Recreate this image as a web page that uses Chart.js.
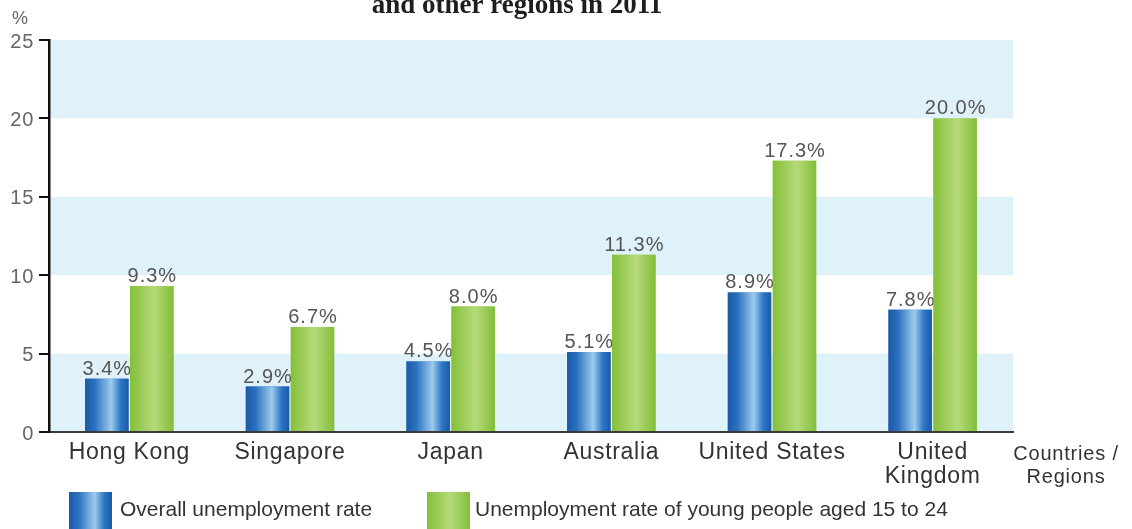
<!DOCTYPE html>
<html>
<head>
<meta charset="utf-8">
<script src="https://cdn.jsdelivr.net/npm/chart.js@4.4.1/dist/chart.umd.min.js"></script>
<style>
  html, body { margin: 0; padding: 0; background: #ffffff; }
  #wrap { width: 1132px; height: 529px; position: relative; overflow: hidden; }
</style>
</head>
<body>
<div id="wrap"><canvas id="c" width="1132" height="529"></canvas></div>
<script>
// ---- data ----
const categories = ['Hong Kong', 'Singapore', 'Japan', 'Australia', 'United States', ['United', 'Kingdom']];
const overallRate = [3.4, 2.9, 4.5, 5.1, 8.9, 7.8];
const youthRate = [9.3, 6.7, 8.0, 11.3, 17.3, 20.0];
const seriesNames = ['Overall unemployment rate', 'Unemployment rate of young people aged 15 to 24'];
const yTickValues = [0, 5, 10, 15, 20, 25];
const titleLine = 'and other regions in 2011';
const yUnit = '%';
const xAxisTitle = ['Countries /', 'Regions'];

// ---- styles ----
const BLUE_STOPS = [[0, '#1c5aa6'], [0.22, '#2a70be'], [0.6, '#9ccbec'], [0.82, '#2c76c5'], [1, '#1b5aa8']];
const GREEN_STOPS = [[0, '#84bf39'], [0.55, '#b5da7b'], [1, '#83be37']];
const BAND_COLOR = '#dff2fa';

function hGrad(ctx, x0, x1, stops) {
  const g = ctx.createLinearGradient(x0, 0, x1, 0);
  stops.forEach(s => g.addColorStop(s[0], s[1]));
  return g;
}

const bandsPlugin = {
  id: 'bands',
  beforeDraw(chart) {
    const {ctx, chartArea} = chart;
    const y = chart.scales.y;
    ctx.save();
    ctx.fillStyle = BAND_COLOR;
    for (let i = 0; i < yTickValues.length - 1; i += 2) {
      const top = y.getPixelForValue(yTickValues[i + 1]);
      const bot = y.getPixelForValue(yTickValues[i]);
      ctx.fillRect(chartArea.left, top, chartArea.right - chartArea.left, bot - top);
    }
    ctx.restore();
    ctx.letterSpacing = '0.7px';
  }
};

const barStylePlugin = {
  id: 'barStyle',
  afterDatasetsDraw(chart) {
    const ctx = chart.ctx;
    const sets = [BLUE_STOPS, GREEN_STOPS];
    const values = [overallRate, youthRate];
    chart.data.datasets.forEach((ds, di) => {
      const meta = chart.getDatasetMeta(di);
      meta.data.forEach((el, i) => {
        const p = el.getProps(['x', 'y', 'base', 'width'], true);
        const x0 = p.x - p.width / 2;
        ctx.save();
        ctx.fillStyle = hGrad(ctx, x0, x0 + p.width, sets[di]);
        ctx.fillRect(x0, p.y, p.width, p.base - p.y);
        ctx.restore();
        ctx.save();
        ctx.letterSpacing = '1px';
        ctx.font = '20px "Liberation Sans", Arial, sans-serif';
        ctx.fillStyle = '#555555';
        ctx.textAlign = 'center';
        ctx.textBaseline = 'alphabetic';
        ctx.fillText(values[di][i].toFixed(1) + '%', p.x + 0.5, p.y - 4);
        ctx.restore();
      });
    });
  }
};

const textPlugin = {
  id: 'extraText',
  afterDraw(chart) {
    const ctx = chart.ctx;
    // title (cut at top)
    ctx.save();
    ctx.letterSpacing = '0px';
    ctx.font = 'bold 27px "Liberation Serif", "Times New Roman", serif';
    ctx.fillStyle = '#1e1e1e';
    ctx.textAlign = 'center';
    ctx.textBaseline = 'alphabetic';
    ctx.fillText(titleLine, 517, 12.5);
    ctx.restore();
    // unit
    ctx.save();
    ctx.letterSpacing = '0px';
    ctx.font = '18px "Liberation Sans", Arial, sans-serif';
    ctx.fillStyle = '#666666';
    ctx.textAlign = 'left';
    ctx.fillText(yUnit, 12, 24);
    ctx.restore();
    // x axis title
    ctx.save();
    ctx.letterSpacing = '0.8px';
    ctx.font = '20px "Liberation Sans", Arial, sans-serif';
    ctx.fillStyle = '#333333';
    ctx.textAlign = 'center';
    ctx.fillText(xAxisTitle[0], 1066, 460);
    ctx.fillText(xAxisTitle[1], 1066, 483);
    ctx.restore();
    // legend
    const items = [[69, 120, BLUE_STOPS], [427, 475, GREEN_STOPS]];
    items.forEach((it, k) => {
      ctx.save();
      ctx.fillStyle = hGrad(ctx, it[0], it[0] + 43, it[2]);
      ctx.fillRect(it[0], 492, 43, 40);
      ctx.letterSpacing = '0px';
      ctx.font = '21px "Liberation Sans", Arial, sans-serif';
      ctx.fillStyle = '#333333';
      ctx.textAlign = 'left';
      ctx.textBaseline = 'alphabetic';
      ctx.fillText(seriesNames[k], it[1], 516);
      ctx.restore();
    });
  }
};

new Chart(document.getElementById('c'), {
  type: 'bar',
  data: {
    labels: categories,
    datasets: [
      { label: seriesNames[0], data: overallRate, backgroundColor: '#2b72c0', borderWidth: 0 },
      { label: seriesNames[1], data: youthRate, backgroundColor: '#8cc63f', borderWidth: 0 }
    ]
  },
  options: {
    responsive: false,
    animation: false,
    devicePixelRatio: 1,
    categoryPercentage: 0.56,
    barPercentage: 0.965,
    layout: { padding: { top: 40, right: 119, left: 0, bottom: 0 } },
    plugins: { legend: { display: false }, tooltip: { enabled: false }, title: { display: false } },
    scales: {
      x: {
        grid: { display: false, drawTicks: false },
        border: { display: true, color: '#3a3a3a', width: 2 },
        ticks: {
          autoSkip: false, maxRotation: 0, minRotation: 0, padding: 8,
          color: '#333333',
          font: { family: '"Liberation Sans", Arial, sans-serif', size: 23, lineHeight: 1.07 }
        },
        afterFit(scale) { scale.height = 97; }
      },
      y: {
        min: 0, max: 25,
        afterBuildTicks(scale) { scale.ticks = yTickValues.map(v => ({ value: v })); },
        grid: { drawOnChartArea: false, drawTicks: true, tickLength: 10, color: '#111111', lineWidth: 2 },
        border: { display: true, color: '#111111', width: 2.5 },
        ticks: {
          padding: 5, color: '#666666', labelOffset: 2,
          font: { family: '"Liberation Sans", Arial, sans-serif', size: 20 }
        },
        afterFit(scale) { scale.width = 49; }
      }
    }
  },
  plugins: [bandsPlugin, barStylePlugin, textPlugin]
});
</script>
</body>
</html>
